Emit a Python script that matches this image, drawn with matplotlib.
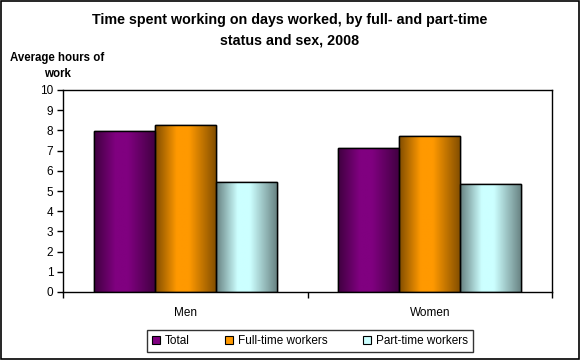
import numpy as np
import matplotlib
matplotlib.use("Agg")
import matplotlib.pyplot as plt
from matplotlib.colors import to_rgb
from matplotlib.patches import Rectangle

plt.rcParams['font.family'] = ['Liberation Sans', 'DejaVu Sans']

categories = ["Men", "Women"]
series_names = ["Total", "Full-time workers", "Part-time workers"]
total = [7.95, 7.11]
full_time = [8.25, 7.71]
part_time = [5.43, 5.33]
series_values = [total, full_time, part_time]
colors = ["#800080", "#FF9900", "#CCFFFF"]
yticks = list(range(0, 11))

fig = plt.figure(figsize=(5.8, 3.6), dpi=100)
fig.patches.append(Rectangle((0.001, 0.002), 0.997, 0.995, transform=fig.transFigure,
                             fill=False, edgecolor='black', linewidth=1.2))
ax = fig.add_axes([63/580, 1-292/360, (552-63)/580, (292-90)/360])

x = np.arange(len(categories))
w = 0.25

def gradient_img(color):
    c = np.array(to_rgb(color))
    t = np.linspace(0, 1, 200)
    f = np.where(t < 0.35, 0.5 + 0.5 * (t / 0.35),
                 np.where(t < 0.55, 1.0, 1.0 - 0.5 * (t - 0.55) / 0.45))
    img = c[None, :] * f[:, None]
    return img[None, :, :]

for i, (vals, col, name) in enumerate(zip(series_values, colors, series_names)):
    bars = ax.bar(x + (i - 1) * w, vals, width=w, color=col, edgecolor='black',
                  linewidth=1.0, label=name, zorder=2)
    for b in bars:
        x0, y0 = b.get_x(), b.get_y()
        bw, bh = b.get_width(), b.get_height()
        im = ax.imshow(gradient_img(col), extent=[x0, x0 + bw, y0, y0 + bh],
                       aspect='auto', zorder=2.5, interpolation='bilinear')
        im.set_clip_path(b)
        ax.add_patch(Rectangle((x0, y0), bw, bh, fill=False, edgecolor='black',
                               linewidth=1.0, zorder=3))

ax.set_xlim(-0.5, len(categories) - 0.5)
ax.set_ylim(0, 10)
ax.set_yticks(yticks)
ax.set_yticklabels([str(v) for v in yticks], fontsize=8.5)
ax.set_xticks(x)
ax.set_xticklabels(categories, fontsize=8.5)
ax.tick_params(axis='x', length=0, pad=11)
ax.set_xticks(np.arange(-0.5, len(categories)), minor=True)
ax.tick_params(axis='x', which='minor', length=4, direction='out', width=1)
ax.tick_params(axis='y', length=4, direction='out', width=1, pad=3)
for s in ax.spines.values():
    s.set_linewidth(1.0)

fig.text(0.5, 1-30/360, "Time spent working on days worked, by full- and part-time\nstatus and sex, 2008",
         ha='center', va='center', fontsize=10.3, fontweight='bold', linespacing=1.55)
fig.text(57/580, 1-66/360, "Average hours of\nwork", ha='center', va='center',
         fontsize=8.3, fontweight='bold', linespacing=1.45)

handles = [Rectangle((0, 0), 1, 1, facecolor=c, edgecolor='black', linewidth=0.8) for c in colors]
leg = fig.legend(handles, series_names, loc='center', bbox_to_anchor=(310/580, 1-341/360),
                 ncol=3, fontsize=8.5, frameon=True, fancybox=False, edgecolor='black',
                 handlelength=0.7, handleheight=0.7, handletextpad=0.4, columnspacing=3.0,
                 borderpad=0.4)
leg.get_frame().set_linewidth(1.0)

fig.savefig("out.png", dpi=100)
